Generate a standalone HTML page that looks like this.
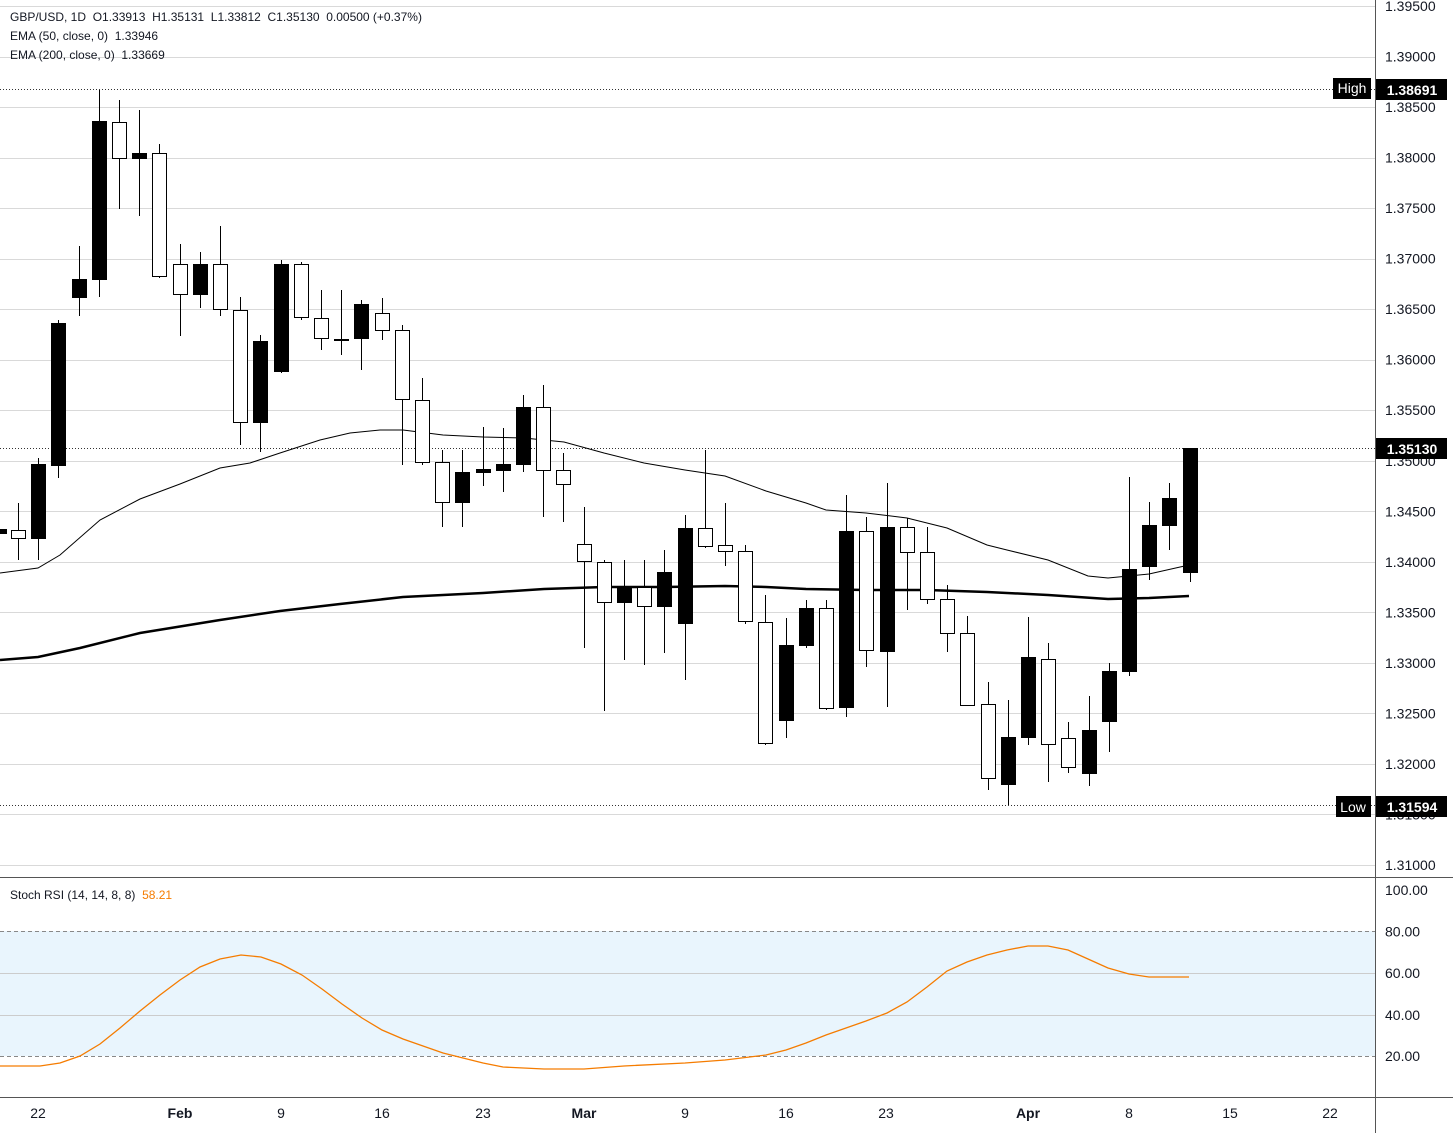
<!DOCTYPE html>
<html><head><meta charset="utf-8"><style>
html,body{margin:0;padding:0;background:#fff;}
svg{display:block;font-family:"Liberation Sans",sans-serif;}
.pre{white-space:pre;}
</style></head><body>
<svg id="s" width="1453" height="1133" xmlns="http://www.w3.org/2000/svg">
<rect width="1453" height="1133" fill="#fff"/>
<g id="grid"></g>
<rect x="0" y="931" width="1375" height="125" fill="#e3f2fd" opacity="0.8"/>
<line x1="0" x2="1375" y1="931.5" y2="931.5" stroke="#888" stroke-dasharray="4,3"/>
<line x1="0" x2="1375" y1="1056.5" y2="1056.5" stroke="#888" stroke-dasharray="4,3"/>
<line x1="0" x2="1375" y1="973.5" y2="973.5" stroke="#ccc"/>
<line x1="0" x2="1375" y1="1015.5" y2="1015.5" stroke="#ccc"/>
<line x1="0" x2="1375" y1="89.5" y2="89.5" stroke="#333" stroke-dasharray="1,2"/>
<line x1="0" x2="1375" y1="448.5" y2="448.5" stroke="#333" stroke-dasharray="1,2"/>
<line x1="0" x2="1375" y1="805.5" y2="805.5" stroke="#333" stroke-dasharray="1,2"/>
<polyline fill="none" stroke="#000" stroke-width="1" points="0,573 38,568 60,555 100,520 140,499 180,484 220,468 250,463 280,453 320,440 350,433 380,430 403,430 443,435 483,437 524,438 564,442 604,453 644,463 685,470 725,476 766,491 806,503 826,510 866,513 907,518 947,528 987,545 1007,550 1048,560 1088,576 1108,578 1149,574 1189,565"/>
<polyline fill="none" stroke="#000" stroke-width="2.5" points="0,660 38,657 80,648 140,633 220,620 280,611 340,604 403,597 483,593 544,589 604,587 665,587 725,586 766,587 806,589 866,590 927,590 987,592 1048,595 1108,599 1149,598 1189,596"/>
<g id="c"></g>
<polyline fill="none" stroke="#f57c00" stroke-width="1.3" points="0,1066 40,1066 60,1063 80,1056 100,1044 120,1028 140,1011 160,995 180,980 200,967 220,959 241,955 261,957 281,964 302,975 322,989 342,1004 362,1018 382,1030 403,1039 423,1046 443,1053 463,1058 483,1063 503,1067 544,1069 584,1069 624,1066 685,1063 725,1060 766,1055 786,1050 806,1043 826,1035 846,1028 866,1021 887,1013 907,1002 927,987 947,971 967,962 987,955 1007,950 1028,946 1048,946 1068,950 1088,959 1108,968 1129,974 1149,977 1189,977"/>
<line x1="0" x2="1453" y1="877.5" y2="877.5" stroke="#555"/>
<line x1="0" x2="1453" y1="1097.5" y2="1097.5" stroke="#555"/>
<line x1="1375.5" x2="1375.5" y1="0" y2="1133" stroke="#555"/>
<g font-size="12" fill="#131722" class="pre">
<text x="10" y="21" class="pre">GBP/USD, 1D  O1.33913  H1.35131  L1.33812  C1.35130  0.00500 (+0.37%)</text>
<text x="10" y="40" class="pre">EMA (50, close, 0)  1.33946</text>
<text x="10" y="59" class="pre">EMA (200, close, 0)  1.33669</text>
<text x="10" y="899" class="pre">Stoch RSI (14, 14, 8, 8)  <tspan fill="#f57c00">58.21</tspan></text>
</g>
<g id="ax" font-size="14" fill="#131722"></g>
<rect x="1333" y="78" width="38" height="21" fill="#000"/>
<text x="1352" y="93" fill="#fff" font-size="14" text-anchor="middle">High</text>
<rect x="1376" y="79" width="71" height="21" fill="#000"/>
<text x="1412" y="95" fill="#fff" font-size="14" font-weight="bold" text-anchor="middle">1.38691</text>
<rect x="1376" y="438" width="71" height="21" fill="#000"/>
<text x="1412" y="454" fill="#fff" font-size="14" font-weight="bold" text-anchor="middle">1.35130</text>
<rect x="1336" y="796" width="35" height="21" fill="#000"/>
<text x="1353" y="812" fill="#fff" font-size="14" text-anchor="middle">Low</text>
<rect x="1376" y="796" width="71" height="21" fill="#000"/>
<text x="1412" y="812" fill="#fff" font-size="14" font-weight="bold" text-anchor="middle">1.31594</text>
<g font-size="14" fill="#131722" text-anchor="middle">
<text x="38" y="1118">22</text><text x="180" y="1118" font-weight="bold">Feb</text><text x="281" y="1118">9</text><text x="382" y="1118">16</text><text x="483" y="1118">23</text><text x="584" y="1118" font-weight="bold">Mar</text><text x="685" y="1118">9</text><text x="786" y="1118">16</text><text x="886" y="1118">23</text><text x="1028" y="1118" font-weight="bold">Apr</text><text x="1129" y="1118">8</text><text x="1230" y="1118">15</text><text x="1330" y="1118">22</text>
</g>
</svg>
<script>
var NS="http://www.w3.org/2000/svg";
function el(p,t,a,txt){var e=document.createElementNS(NS,t);for(var k in a)e.setAttribute(k,a[k]);if(txt)e.textContent=txt;p.appendChild(e);return e;}
var g=document.getElementById('grid'),ax=document.getElementById('ax');
for(var i=0;i<=17;i++){var y=6+i*50.53;var p=(1.395-i*0.005).toFixed(5);
el(g,'line',{x1:0,x2:1375,y1:Math.round(y)+.5,y2:Math.round(y)+.5,stroke:'#d9d9d9'});
el(ax,'text',{x:1385,y:y+5},p);}
[[100,890],[80,931.5],[60,973],[40,1015],[20,1056]].forEach(function(v){el(ax,'text',{x:1385,y:v[1]+5},v[0].toFixed(2));});
var C=[[530,538,503,560,0],[464,538,458,560,1],[323,465,320,478,1],[279,297,246,316,1],[121,279,90,297,1],[122,158,100,209,0],[153,158,110,216,1],[153,276,144,278,0],[264,294,244,336,0],[264,294,252,308,1],[264,309,226,316,0],[310,422,297,445,0],[341,422,335,452,1],[264,371,260,373,1],[264,317,262,320,0],[318,338,290,350,0],[339,340,290,355,0],[304,338,300,370,1],[313,330,298,340,0],[330,399,325,465,0],[400,462,378,465,0],[462,502,450,527,0],[472,502,450,527,1],[469,472,427,486,1],[464,470,428,492,1],[407,464,395,472,1],[407,470,385,517,0],[470,484,453,522,0],[544,561,507,648,0],[562,602,560,711,0],[587,602,560,660,1],[587,606,560,665,0],[572,606,550,653,1],[528,623,515,680,1],[528,546,450,548,0],[545,551,503,566,0],[551,621,545,624,0],[622,743,595,745,0],[645,720,618,738,1],[608,645,600,648,1],[608,708,600,710,0],[531,707,495,717,1],[531,650,517,667,0],[527,651,483,707,1],[527,552,518,610,0],[552,599,527,604,0],[599,633,585,652,0],[633,705,616,706,0],[704,778,682,790,0],[737,784,700,805,1],[657,737,617,745,1],[659,744,643,782,0],[738,767,722,773,0],[730,773,696,786,1],[671,721,663,752,1],[569,671,477,676,1],[525,566,502,580,1],[498,525,483,550,1],[448,572,448,582,1]];
var cg=document.getElementById('c');
el(cg,'rect',{x:0,y:529,width:7,height:5,fill:'#000'});
C.forEach(function(c,i){var x=Math.round(18+i*20.2);
el(cg,'line',{x1:x+.5,x2:x+.5,y1:c[2],y2:c[3],stroke:'#000'});
el(cg,'rect',{x:x-6.5,y:c[0]+.5,width:14,height:Math.max(c[1]-c[0],1),fill:c[4]?'#000':'#fff',stroke:'#000'});});
</script>
</body></html>
